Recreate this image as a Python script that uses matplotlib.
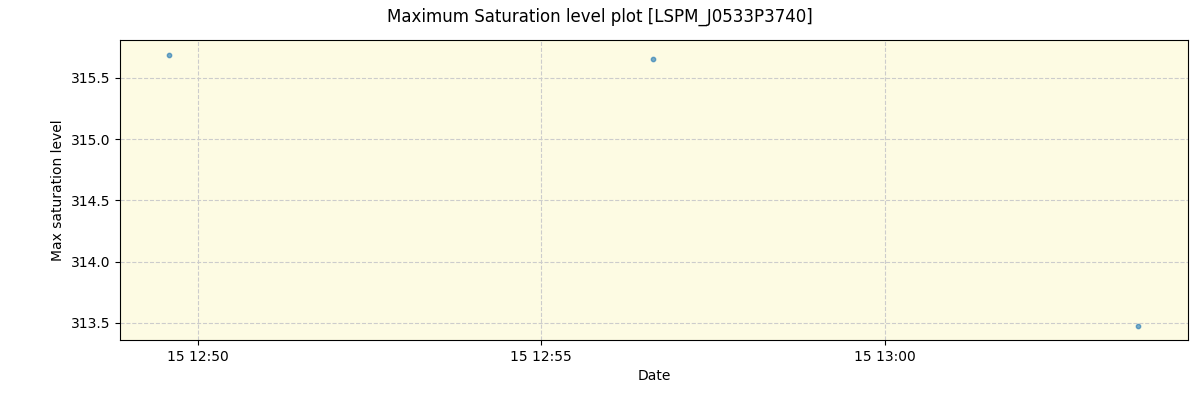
import numpy as np
import pandas as pd
import matplotlib
matplotlib.use("Agg")
import matplotlib.pyplot as plt
import matplotlib.dates as mdates

times = pd.to_datetime(["2023-01-15 12:49:35", "2023-01-15 12:56:38", "2023-01-15 13:03:41"])
max_sat = [315.687, 315.654, 313.476]

fig = plt.figure(figsize=(12, 4), dpi=100)
ax = fig.add_axes([0.1, 0.15, 0.89, 0.75])
ax.set_facecolor("#fdfbe3")
ax.scatter(times, max_sat, s=10, color="#1f77b4", alpha=0.6)
ax.grid(True, linestyle="--", color="#cccccc")
ax.xaxis.set_major_locator(mdates.MinuteLocator(byminute=range(0, 60, 5)))
ax.xaxis.set_major_formatter(mdates.DateFormatter("%d %H:%M"))
ax.set_xlim(pd.Timestamp("2023-01-15 12:48:52"), pd.Timestamp("2023-01-15 13:04:25"))
ax.set_ylim(313.36, 315.81)
ax.set_xlabel("Date")
ax.set_ylabel("Max saturation level")
fig.suptitle("Maximum Saturation level plot [LSPM_J0533P3740]")
fig.savefig("out.png")
